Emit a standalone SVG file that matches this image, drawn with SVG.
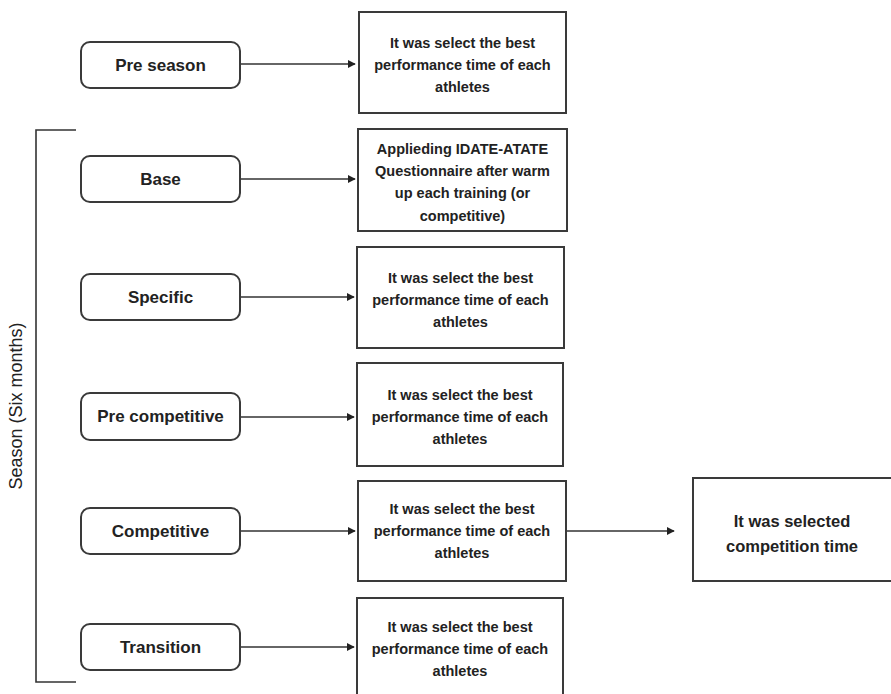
<svg xmlns="http://www.w3.org/2000/svg" width="891" height="694" viewBox="0 0 891 694">
<style>
.bg{fill:#fff}
.lbox{fill:#fff;stroke:#3a3a3a;stroke-width:2}
.rbox{fill:#fff;stroke:#3a3a3a;stroke-width:2}
.lt{font-family:"Liberation Sans",Arial,sans-serif;font-weight:bold;font-size:17px;fill:#222;text-anchor:middle}
.rt{font-family:"Liberation Sans",Arial,sans-serif;font-weight:bold;font-size:14.5px;fill:#222;text-anchor:middle}
.ft{font-family:"Liberation Sans",Arial,sans-serif;font-weight:bold;font-size:16.5px;fill:#222;text-anchor:middle}
.st{font-family:"Liberation Sans",Arial,sans-serif;font-size:18px;fill:#222;text-anchor:middle}
.conn{stroke:#333;stroke-width:1.6;fill:none}
</style>
<defs>
<marker id="ah" viewBox="0 0 10 10" refX="9" refY="5" markerWidth="5" markerHeight="5" markerUnits="strokeWidth" orient="auto">
<path d="M0,0 L10,5 L0,10 z" fill="#222"/>
</marker>
</defs>
<rect class="bg" x="0" y="0" width="891" height="694"/>

<g id="bracket">
<path class="conn" d="M76,130 H36 V682 H76" stroke-width="2"/>
<text class="st" transform="translate(22,406) rotate(-90)">Season (Six months)</text>
</g>

<g id="connectors">
<line class="conn" x1="240" y1="64" x2="355" y2="64" marker-end="url(#ah)"/>
<line class="conn" x1="241" y1="179" x2="355" y2="179" marker-end="url(#ah)"/>
<line class="conn" x1="241" y1="297" x2="354" y2="297" marker-end="url(#ah)"/>
<line class="conn" x1="241" y1="417" x2="354" y2="417" marker-end="url(#ah)"/>
<line class="conn" x1="241" y1="531" x2="355" y2="531" marker-end="url(#ah)"/>
<line class="conn" x1="241" y1="647" x2="354" y2="647" marker-end="url(#ah)"/>
<line class="conn" x1="566" y1="531" x2="674" y2="531" marker-end="url(#ah)"/>
</g>

<g id="n-preseason">
<rect class="lbox" x="81" y="42" width="159" height="46" rx="9"/>
<text class="lt" x="160.5" y="71">Pre season</text>
</g>
<g id="n-base">
<rect class="lbox" x="81" y="156" width="159" height="46" rx="9"/>
<text class="lt" x="160.5" y="185">Base</text>
</g>
<g id="n-specific">
<rect class="lbox" x="81" y="274" width="159" height="46" rx="9"/>
<text class="lt" x="160.5" y="303">Specific</text>
</g>
<g id="n-precompetitive">
<rect class="lbox" x="81" y="393" width="159" height="47" rx="9"/>
<text class="lt" x="160.5" y="422">Pre competitive</text>
</g>
<g id="n-competitive">
<rect class="lbox" x="81" y="508" width="159" height="46" rx="9"/>
<text class="lt" x="160.5" y="537">Competitive</text>
</g>
<g id="n-transition">
<rect class="lbox" x="81" y="624" width="159" height="46" rx="9"/>
<text class="lt" x="160.5" y="653">Transition</text>
</g>

<g id="r-preseason">
<rect class="rbox" x="359" y="12" width="207" height="101"/>
<text class="rt" x="462.5" y="48">It was select the best</text>
<text class="rt" x="462.5" y="70">performance time of each</text>
<text class="rt" x="462.5" y="92">athletes</text>
</g>
<g id="r-base">
<rect class="rbox" x="358" y="129" width="209" height="102"/>
<text class="rt" x="462.5" y="154">Applieding IDATE-ATATE</text>
<text class="rt" x="462.5" y="176">Questionnaire after warm</text>
<text class="rt" x="462.5" y="198">up each training (or</text>
<text class="rt" x="462.5" y="221">competitive)</text>
</g>
<g id="r-specific">
<rect class="rbox" x="357" y="247" width="207" height="101"/>
<text class="rt" x="460.5" y="283">It was select the best</text>
<text class="rt" x="460.5" y="305">performance time of each</text>
<text class="rt" x="460.5" y="327">athletes</text>
</g>
<g id="r-precompetitive">
<rect class="rbox" x="357" y="363" width="206" height="103"/>
<text class="rt" x="460" y="400">It was select the best</text>
<text class="rt" x="460" y="422">performance time of each</text>
<text class="rt" x="460" y="444">athletes</text>
</g>
<g id="r-competitive">
<rect class="rbox" x="358" y="481" width="208" height="100"/>
<text class="rt" x="462" y="514">It was select the best</text>
<text class="rt" x="462" y="536">performance time of each</text>
<text class="rt" x="462" y="558">athletes</text>
</g>
<g id="r-transition">
<rect class="rbox" x="357" y="598" width="206" height="104"/>
<text class="rt" x="460" y="632">It was select the best</text>
<text class="rt" x="460" y="654">performance time of each</text>
<text class="rt" x="460" y="676">athletes</text>
</g>
<g id="n-final">
<rect class="rbox" x="693" y="478" width="205" height="103"/>
<text class="ft" x="792" y="527">It was selected</text>
<text class="ft" x="792" y="552">competition time</text>
</g>
</svg>
